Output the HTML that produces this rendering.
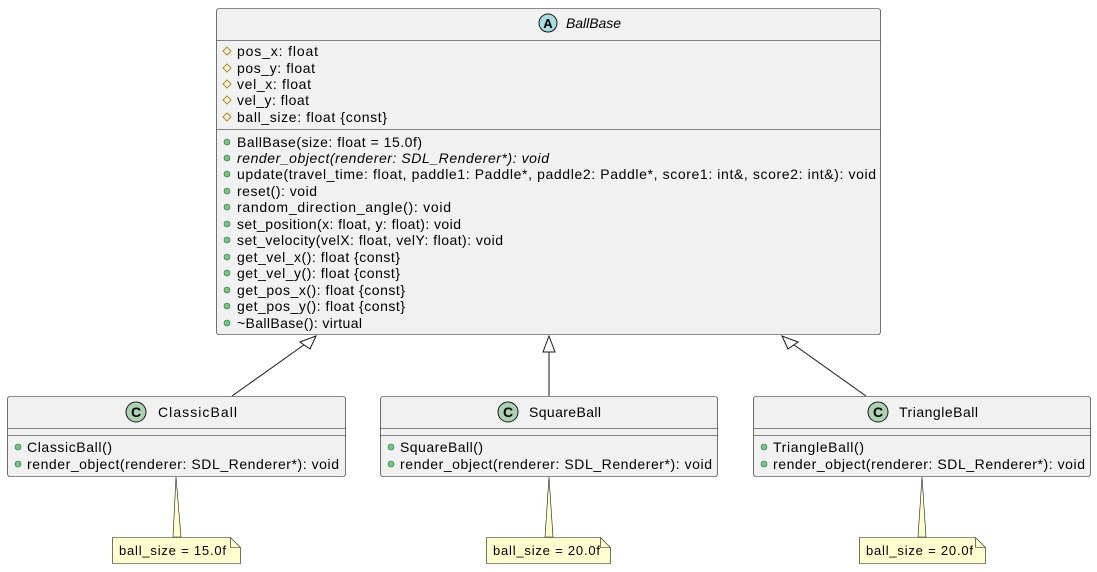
<!DOCTYPE html>
<html><head><meta charset="utf-8"><style>
html,body{margin:0;padding:0;background:#fff;}
svg text{font-family:"Liberation Sans",sans-serif;font-size:14px;fill:#000;}
</style></head><body>
<svg width="1097" height="567" viewBox="0 0 1097 567" xmlns="http://www.w3.org/2000/svg">
<defs>
<g id="prot"><path d="M0,-4 L4,0 L0,4 L-4,0 Z" fill="none" stroke="#b38d22" stroke-width="1"/></g>
<g id="pub"><circle r="3" fill="#84be84" stroke="#038048" stroke-width="0.6"/></g>
</defs>
<g stroke="#181818" stroke-width="1" fill="none">
<line x1="232" y1="396" x2="308" y2="342"/>
<line x1="549" y1="396" x2="549" y2="352"/>
<line x1="866" y1="396" x2="790" y2="342"/>
</g>
<g stroke="#181818" stroke-width="1" fill="#fff">
<polygon points="316,336 300,342 310,349"/>
<polygon points="549,336 543,352 555,352"/>
<polygon points="782,336 788,349 798,342"/>
</g>
<rect x="216.5" y="8.5" width="664" height="326" rx="2.5" fill="#f1f1f1" stroke="#181818" stroke-width="0.6"/>
<line x1="216.5" y1="40.5" x2="880.5" y2="40.5" stroke="#181818" stroke-width="0.6"/>
<line x1="216.5" y1="129.5" x2="880.5" y2="129.5" stroke="#181818" stroke-width="0.6"/>
<circle cx="548" cy="23" r="9" fill="#a9dcdf" stroke="#181818" stroke-width="1"/>
<text x="548" y="28" text-anchor="middle" font-weight="bold" style="font-size:13px">A</text>
<text x="566" y="28" font-style="italic" textLength="55">BallBase</text>
<g>
<use href="#prot" x="227" y="51"/><text x="237" y="56" textLength="81">pos_x: float</text>
<use href="#prot" x="227" y="68"/><text x="237" y="73" textLength="78">pos_y: float</text>
<use href="#prot" x="227" y="84"/><text x="237" y="89" textLength="74">vel_x: float</text>
<use href="#prot" x="227" y="100"/><text x="237" y="105" textLength="72">vel_y: float</text>
<use href="#prot" x="227" y="117"/><text x="237" y="122" textLength="150">ball_size: float {const}</text>
</g>
<g>
<use href="#pub" x="227" y="142"/><text x="237" y="147" textLength="185">BallBase(size: float = 15.0f)</text>
<use href="#pub" x="227" y="158"/><text x="237" y="163" font-style="italic" textLength="312">render_object(renderer: SDL_Renderer*): void</text>
<use href="#pub" x="227" y="174"/><text x="237" y="179" textLength="639">update(travel_time: float, paddle1: Paddle*, paddle2: Paddle*, score1: int&amp;, score2: int&amp;): void</text>
<use href="#pub" x="227" y="191"/><text x="237" y="196" textLength="80">reset(): void</text>
<use href="#pub" x="227" y="207"/><text x="237" y="212" textLength="214">random_direction_angle(): void</text>
<use href="#pub" x="227" y="224"/><text x="237" y="229" textLength="224">set_position(x: float, y: float): void</text>
<use href="#pub" x="227" y="240"/><text x="237" y="245" textLength="266">set_velocity(velX: float, velY: float): void</text>
<use href="#pub" x="227" y="257"/><text x="237" y="262" textLength="163">get_vel_x(): float {const}</text>
<use href="#pub" x="227" y="273"/><text x="237" y="278" textLength="163">get_vel_y(): float {const}</text>
<use href="#pub" x="227" y="290"/><text x="237" y="295" textLength="168">get_pos_x(): float {const}</text>
<use href="#pub" x="227" y="306"/><text x="237" y="311" textLength="168">get_pos_y(): float {const}</text>
<use href="#pub" x="227" y="323"/><text x="237" y="328" textLength="125">~BallBase(): virtual</text>
</g>
<g>
<rect x="7.5" y="396.5" width="338" height="80" rx="2.5" fill="#f1f1f1" stroke="#181818" stroke-width="0.6"/>
<line x1="7.5" y1="428.5" x2="345.5" y2="428.5" stroke="#181818" stroke-width="0.6"/>
<line x1="7.5" y1="435.5" x2="345.5" y2="435.5" stroke="#181818" stroke-width="0.6"/>
<circle cx="136" cy="412" r="10" fill="#add1b2" stroke="#181818" stroke-width="1"/>
<text x="136" y="417" text-anchor="middle" font-weight="bold">C</text>
<text x="158" y="417" textLength="79">ClassicBall</text>
<use href="#pub" x="18" y="447"/><text x="27" y="452" textLength="85">ClassicBall()</text>
<use href="#pub" x="18" y="464"/><text x="27" y="469" textLength="312">render_object(renderer: SDL_Renderer*): void</text>
</g>
<g>
<rect x="380.5" y="396.5" width="337" height="80" rx="2.5" fill="#f1f1f1" stroke="#181818" stroke-width="0.6"/>
<line x1="380.5" y1="428.5" x2="717.5" y2="428.5" stroke="#181818" stroke-width="0.6"/>
<line x1="380.5" y1="435.5" x2="717.5" y2="435.5" stroke="#181818" stroke-width="0.6"/>
<circle cx="508" cy="412" r="10" fill="#add1b2" stroke="#181818" stroke-width="1"/>
<text x="508" y="417" text-anchor="middle" font-weight="bold">C</text>
<text x="529" y="417" textLength="72">SquareBall</text>
<use href="#pub" x="391" y="447"/><text x="400" y="452" textLength="83">SquareBall()</text>
<use href="#pub" x="391" y="464"/><text x="400" y="469" textLength="312">render_object(renderer: SDL_Renderer*): void</text>
</g>
<g>
<rect x="753.5" y="396.5" width="337" height="80" rx="2.5" fill="#f1f1f1" stroke="#181818" stroke-width="0.6"/>
<line x1="753.5" y1="428.5" x2="1090.5" y2="428.5" stroke="#181818" stroke-width="0.6"/>
<line x1="753.5" y1="435.5" x2="1090.5" y2="435.5" stroke="#181818" stroke-width="0.6"/>
<circle cx="878" cy="412" r="10" fill="#add1b2" stroke="#181818" stroke-width="1"/>
<text x="878" y="417" text-anchor="middle" font-weight="bold">C</text>
<text x="899" y="417" textLength="79">TriangleBall</text>
<use href="#pub" x="764" y="447"/><text x="773" y="452" textLength="91">TriangleBall()</text>
<use href="#pub" x="764" y="464"/><text x="773" y="469" textLength="312">render_object(renderer: SDL_Renderer*): void</text>
</g>
<g fill="#fefece" stroke="#181818" stroke-width="0.6">
<polygon points="176,477 173,537 181,537"/>
<path d="M112.5,537.5 H230.5 L240.5,547.5 V563.5 H112.5 Z"/>
<path d="M230.5,537.5 V547.5 H240.5" fill="none"/>
<polygon points="549,477 545,537 553,537"/>
<path d="M486.5,537.5 H600.5 L610.5,547.5 V563.5 H486.5 Z"/>
<path d="M600.5,537.5 V547.5 H610.5" fill="none"/>
<polygon points="922,477 918,537 926,537"/>
<path d="M859.5,537.5 H975.5 L985.5,547.5 V563.5 H859.5 Z"/>
<path d="M975.5,537.5 V547.5 H985.5" fill="none"/>
</g>
<text x="119" y="555" style="font-size:13px" textLength="107">ball_size = 15.0f</text>
<text x="493" y="555" style="font-size:13px" textLength="107">ball_size = 20.0f</text>
<text x="866" y="555" style="font-size:13px" textLength="107">ball_size = 20.0f</text>
</svg>
</body></html>
